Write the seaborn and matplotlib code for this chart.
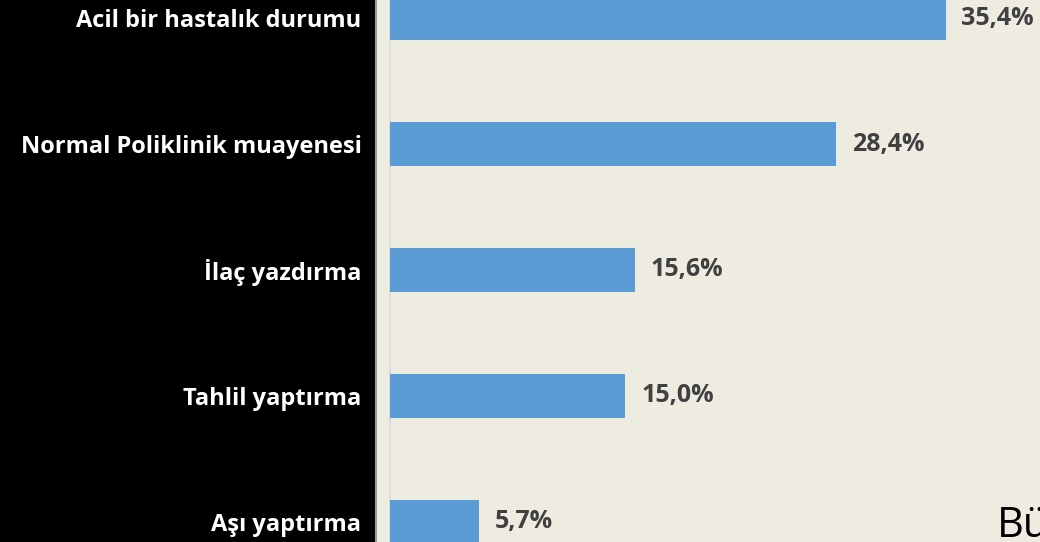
import pandas as pd
import numpy as np
import seaborn as sns
import matplotlib.pyplot as plt

# data
reasons = ['Acil bir hastalık durumu', 'Normal Poliklinik muayenesi', 'İlaç yazdırma',
           'Tahlil yaptırma', 'Aşı yaptırma']
shares = [35.4, 28.4, 15.6, 15.0, 5.7]

df = pd.DataFrame({'Reason': reasons, 'Share': shares})

sns.set_theme(style='white')
plt.rcParams['font.family'] = ['Open Sans', 'DejaVu Sans']

fig = plt.figure(figsize=(10.4, 5.42), dpi=100, facecolor='black')
ax = fig.add_axes([376 / 1040, 0, 664 / 1040, 1])
ax.set_facecolor('#eeebe0')

sns.barplot(data=df, x='Share', y='Reason', orient='h', color='#5b9bd5',
            width=0.35, saturation=1, linewidth=0, ax=ax)

ax.set_xlim(-0.89, 41.4)
ax.set_ylim(4.159, -0.143)
ax.axvline(0, color='#d9d9d9', lw=1.2, zorder=0)

for i, v in enumerate(df['Share']):
    ax.text(v + 1.0, i, f"{v:.1f}%".replace('.', ','), va='center', ha='left',
            fontsize=18, fontweight='bold', color='#404040')

ax.set_xticks([])
ax.set_xlabel('')
ax.set_ylabel('')
ax.tick_params(axis='y', length=0, pad=10.5, colors='white')
for lbl in ax.get_yticklabels():
    lbl.set_fontweight('bold')
    lbl.set_fontsize(17)
    lbl.set_color('white')

for s in ['top', 'right', 'bottom']:
    ax.spines[s].set_visible(False)
ax.spines['left'].set_color('#9f9d8f')
ax.spines['left'].set_linewidth(1.5)

# partly cut-off caption text at the bottom right, as in the source slide
fig.text(997 / 1040, 1 - 505 / 542, 'Bü', fontsize=30, color='black', va='top', ha='left')

fig.savefig('out.png', dpi=100, facecolor=fig.get_facecolor())
